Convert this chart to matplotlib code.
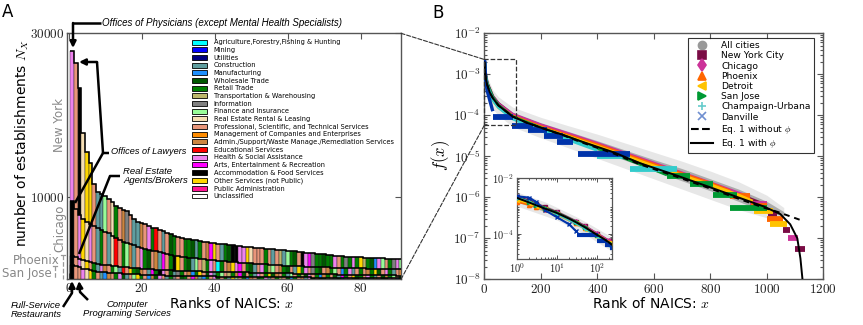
import numpy as np
import matplotlib
matplotlib.use('Agg')
import matplotlib.pyplot as plt
from matplotlib.patches import Patch, Rectangle, ConnectionPatch, FancyArrowPatch
from matplotlib.lines import Line2D
from matplotlib.ticker import FixedLocator, FuncFormatter, LogLocator, NullFormatter

plt.rcParams['font.family'] = ['DejaVu Sans']
plt.rcParams['mathtext.fontset'] = 'cm'

# ---------------- data: panel A ----------------
sector_names = [
    'Agriculture,Forestry,Fishing & Hunting', 'Mining', 'Utilities', 'Construction',
    'Manufacturing', 'Wholesale Trade', 'Retail Trade', 'Transportation & Warehousing',
    'Information', 'Finance and Insurance', 'Real Estate Rental & Leasing',
    'Professional, Scientific, and Technical Services',
    'Management of Companies and Enterprises',
    'Admin./Support/Waste Manage./Remediation Services', 'Educational Services',
    'Health & Social Assistance', 'Arts, Entertainment & Recreation',
    'Accommodation & Food Services', 'Other Services (not Public)',
    'Public Administration', 'Unclassified']
sector_colors = ['#00ffff', '#0000ff', '#000080', '#5f9ea0', '#1e90ff', '#005800',
                 '#008000', '#bdb76b', '#808080', '#98fb98', '#f5deb3', '#e9967a',
                 '#ff8c00', '#cd853f', '#ff0000', '#ee82ee', '#ff00ff', '#000000',
                 '#ffd700', '#ff1493', '#ffffff']

nyc_counts = [27800, 26400, 23300, 17800, 15500, 14200, 11600, 10600, 10400, 10200,
              9800, 9400, 9000, 8700, 8400, 8300, 7800, 7300, 7000, 6900,
              6700, 6500, 6300, 6200, 6000, 5900, 5700, 5500, 5300, 5100,
              5000, 4950, 4900, 4800, 4750, 4700, 4600, 4500, 4450, 4400,
              4350, 4300, 4250, 4200, 4150, 4100, 4050, 4000, 3950, 3900,
              3850, 3800, 3780, 3750, 3700, 3650, 3600, 3550, 3520, 3500,
              3450, 3400, 3350, 3300, 3250, 3200, 3150, 3120, 3100, 3050,
              3000, 2950, 2900, 2850, 2800, 2780, 2760, 2740, 2720, 2700,
              2650, 2620, 2600, 2580, 2560, 2540, 2520, 2500, 2480, 2460, 2440]
nyc_sectors = [15, 11, 17, 10, 18, 18, 11, 3, 3, 9,
               11, 10, 6, 11, 13, 8, 11, 3, 3, 13,
               11, 15, 6, 14, 11, 3, 11, 5, 6, 11,
               11, 6, 6, 5, 3, 6, 11, 13, 16, 18,
               11, 3, 6, 5, 17, 17, 15, 15, 18, 10,
               11, 11, 11, 6, 11, 3, 11, 7, 3, 9,
               6, 5, 11, 17, 15, 16, 8, 6, 6, 5,
               6, 6, 15, 11, 6, 8, 6, 15, 6, 18,
               7, 6, 5, 4, 15, 9, 11, 6, 8, 15, 9]

chicago_counts = [9600, 8600, 7900, 7300, 7000, 6800, 6500, 6200, 6000, 5800,
                  5600, 5300, 5000, 4800, 4600, 4450, 4300, 4150, 4000, 3850,
                  3700, 3600, 3500, 3400, 3300, 3200, 3100, 3000, 2900, 2800,
                  2750, 2700, 2650, 2600, 2550, 2500, 2450, 2400, 2350, 2300,
                  2260, 2220, 2180, 2140, 2100, 2060, 2020, 1990, 1960, 1930,
                  1900, 1870, 1840, 1810, 1780, 1750, 1720, 1700, 1680, 1660,
                  1640, 1620, 1600, 1580, 1560, 1540, 1520, 1500, 1480, 1460,
                  1440, 1420, 1400, 1390, 1380, 1370, 1360, 1350, 1340, 1330,
                  1320, 1310, 1300, 1290, 1280, 1270, 1260, 1250, 1240, 1230, 1220]
chicago_sectors = [17, 11, 15, 18, 10, 15, 11, 3, 6, 11,
                   3, 10, 14, 11, 6, 9, 13, 3, 11, 15,
                   6, 5, 11, 13, 3, 16, 11, 6, 17, 18,
                   11, 6, 5, 3, 9, 11, 7, 6, 15, 11,
                   0, 6, 11, 13, 18, 15, 16, 11, 6, 5,
                   3, 11, 15, 6, 7, 9, 11, 13, 6, 5,
                   11, 3, 18, 6, 15, 11, 8, 6, 5, 11,
                   13, 6, 9, 11, 4, 6, 15, 3, 11, 6,
                   11, 13, 6, 18, 5, 11, 15, 6, 3, 11, 13]

phoenix_counts = [2900, 2700, 2500, 2350, 2200, 2100, 2000, 1900, 1800, 1750,
                  1700, 1650, 1600, 1550, 1500, 1460, 1420, 1380, 1340, 1300,
                  1270, 1240, 1210, 1180, 1150, 1120, 1100, 1080, 1060, 1040,
                  1020, 1000, 990, 980, 970, 960, 950, 940, 930, 920,
                  910, 900, 890, 880, 870, 860, 850, 840, 830, 820,
                  810, 800, 790, 780, 770, 760, 750, 740, 730, 720,
                  710, 700, 690, 680, 670, 660, 650, 640, 630, 620,
                  610, 600, 590, 580, 570, 560, 550, 540, 530, 520,
                  510, 500, 495, 490, 485, 480, 475, 470, 465, 460, 455]
phoenix_sectors = [17, 11, 15, 10, 18, 11, 6, 3, 15, 13,
                   11, 6, 9, 3, 14, 11, 18, 6, 5, 13,
                   11, 3, 16, 6, 17, 15, 11, 5, 3, 8,
                   6, 11, 13, 4, 6, 18, 11, 5, 15, 3,
                   6, 9, 11, 7, 6, 13, 16, 5, 11, 6,
                   3, 15, 11, 6, 18, 5, 13, 11, 6, 3,
                   9, 11, 6, 7, 5, 15, 11, 6, 4, 13,
                   6, 11, 5, 3, 16, 6, 11, 18, 5, 6,
                   11, 15, 6, 3, 11, 5, 13, 6, 9, 11, 6]

sanjose_counts = [1800, 1600, 1450, 1300, 1200, 1100, 1000, 950, 900, 850,
                  800, 770, 740, 710, 680, 650, 630, 610, 590, 570,
                  550, 535, 520, 505, 490, 475, 460, 450, 440, 430,
                  420, 410, 400, 390, 380, 370, 360, 355, 350, 345,
                  340, 335, 330, 325, 320, 315, 310, 305, 300, 295,
                  290, 285, 280, 275, 270, 265, 260, 255, 250, 245,
                  240, 236, 232, 228, 224, 220, 216, 212, 208, 204,
                  200, 197, 194, 191, 188, 185, 182, 179, 176, 173,
                  170, 168, 166, 164, 162, 160, 158, 156, 154, 152, 150]
sanjose_sectors = [17, 11, 11, 15, 10, 18, 6, 11, 3, 4,
                   13, 11, 6, 15, 5, 3, 11, 9, 18, 6,
                   11, 4, 13, 5, 15, 11, 3, 6, 8, 11,
                   5, 6, 11, 16, 13, 3, 4, 6, 11, 15,
                   5, 11, 6, 3, 18, 9, 11, 6, 4, 13,
                   11, 5, 6, 15, 3, 11, 6, 7, 11, 5,
                   4, 6, 11, 13, 3, 15, 6, 11, 5, 6,
                   9, 11, 3, 6, 4, 15, 11, 6, 5, 13,
                   11, 6, 3, 18, 11, 5, 6, 15, 11, 4, 6]

# ---------------- data: panel B (log10 of f) ----------------
model_x = [1, 2, 3, 5, 10, 20, 30, 50, 100, 150, 212, 280, 340, 457, 552, 669, 789,
           906, 988, 1048, 1083, 1108, 1119, 1126]
model_phi_log = [-2.71, -2.87, -2.97, -3.09, -3.25, -3.45, -3.58, -3.76, -4.03, -4.18,
                 -4.33, -4.48, -4.63, -4.9, -5.17, -5.44, -5.73, -6.02, -6.22, -6.41,
                 -6.66, -7.0, -7.49, -7.98]
model_nophi_x = [1, 2, 3, 5, 10, 20, 30, 50, 100, 150, 212, 280, 340, 457, 552, 669,
                 789, 906, 988, 1040, 1130]
model_nophi_log = [-2.71, -2.87, -2.97, -3.09, -3.25, -3.45, -3.58, -3.76, -4.03, -4.18,
                   -4.33, -4.49, -4.65, -4.93, -5.2, -5.47, -5.76, -6.05, -6.25, -6.36,
                   -6.58]

band_x = [1, 5, 10, 30, 50, 100, 200, 300, 400, 500, 600, 700, 800, 900, 1000, 1060]
band_outer_hi = [-2.5, -2.85, -3.05, -3.38, -3.55, -3.8, -4.05, -4.26, -4.46, -4.68,
                 -4.9, -5.12, -5.36, -5.62, -5.95, -6.25]
band_outer_lo = [-3.0, -3.35, -3.5, -3.85, -4.0, -4.28, -4.55, -4.8, -5.05, -5.3,
                 -5.55, -5.8, -6.05, -6.3, -6.5, -6.5]
band_inner_hi = [-2.6, -2.97, -3.15, -3.48, -3.66, -3.92, -4.18, -4.4, -4.62, -4.85,
                 -5.08, -5.3, -5.55, -5.8, -6.1, -6.35]
band_inner_lo = [-2.85, -3.2, -3.35, -3.68, -3.85, -4.1, -4.4, -4.62, -4.86, -5.1,
                 -5.35, -5.6, -5.84, -6.1, -6.38, -6.45]

city_names = ['New York City', 'Chicago', 'Phoenix', 'Detroit', 'San Jose',
              'Champaign-Urbana', 'Danville']
city_colors = ['#7a0c45', '#cc3399', '#ff6600', '#ffc300', '#009933', '#33cccc', '#0033aa']
city_legend_colors = ['#7a0c45', '#cc3399', '#ff6600', '#ffc300', '#009933', '#66cccc', '#6f8fd0']
city_markers = ['s', 'd', '^', '<', '>', '+', 'x']

nyc_x = [1, 2, 3, 5, 10, 30, 50, 100, 200, 300, 400, 500, 600, 700, 800, 900, 1000]
nyc_log = [-2.68, -2.8, -2.92, -3.05, -3.22, -3.55, -3.72, -3.99, -4.25, -4.48, -4.71,
           -4.96, -5.2, -5.44, -5.68, -5.93, -6.2]
nyc_tail = [(1005, 1037, -6.41), (1058, 1083, -6.8), (1100, 1136, -7.27)]
chi_x = [1, 2, 3, 5, 10, 30, 50, 100, 200, 300, 400, 500, 600, 700, 800, 900, 940]
chi_log = [-2.75, -2.88, -2.98, -3.1, -3.26, -3.56, -3.73, -3.98, -4.24, -4.46, -4.69,
           -4.93, -5.17, -5.41, -5.65, -5.9, -6.0]
chi_tail = [(941, 1002, -6.17), (1076, 1112, -7.0)]
phx_x = [1, 2, 3, 5, 10, 30, 50, 100, 200, 300, 400, 500, 600, 700, 800, 870]
phx_log = [-2.85, -2.95, -3.02, -3.12, -3.3, -3.6, -3.77, -4.02, -4.28, -4.5, -4.72,
           -4.96, -5.2, -5.43, -5.66, -5.85]
phx_tail = [(870, 941, -5.97), (945, 1000, -6.22), (1002, 1058, -6.52)]
det_x = [1, 2, 3, 5, 10, 30, 50, 100, 200, 300, 400, 500, 600, 700, 800, 900, 950]
det_log = [-2.78, -2.9, -3.0, -3.12, -3.3, -3.62, -3.8, -4.05, -4.31, -4.53, -4.76,
           -5.0, -5.24, -5.47, -5.7, -5.95, -6.1]
det_tail = [(953, 1023, -6.34), (1012, 1072, -6.66)]
sj_x = [1, 2, 3, 5, 10, 30, 50, 100, 200, 300, 400, 500, 600, 647]
sj_log = [-2.7, -2.84, -2.95, -3.08, -3.24, -3.57, -3.76, -4.04, -4.31, -4.55, -4.8,
          -5.05, -5.32, -5.45]
sj_tail = [(647, 729, -5.49), (729, 810, -5.68), (810, 895, -5.95), (870, 1002, -6.27)]
cu_x = [1, 2, 3, 5, 10, 30, 50, 100, 200, 300, 400]
cu_log = [-2.7, -2.85, -2.95, -3.1, -3.28, -3.62, -3.8, -4.08, -4.37, -4.6, -4.85]
cu_tail = [(400, 517, -5.0), (517, 683, -5.3)]
dan_x = [1, 2, 3, 5, 10, 20, 30]
dan_log = [-2.65, -2.7, -2.85, -3.15, -3.4, -3.65, -3.9]
dan_tail = [(32, 103, -4.03), (99, 174, -4.25), (156, 222, -4.37), (210, 277, -4.5),
            (258, 315, -4.65), (330, 517, -4.95)]

city_series = [(nyc_x, nyc_log, nyc_tail), (chi_x, chi_log, chi_tail),
               (phx_x, phx_log, phx_tail), (det_x, det_log, det_tail),
               (sj_x, sj_log, sj_tail), (cu_x, cu_log, cu_tail),
               (dan_x, dan_log, dan_tail)]

# ---------------- figure ----------------
W, H = 863, 325
fig = plt.figure(figsize=(W / 100, H / 100), dpi=100)


def P(px, py):
    return (px / W, 1 - py / H)


SPINE = '#555555'
TXT = '#222222'
ANN_FONT = ['Liberation Sans', 'DejaVu Sans']

# ---------- Panel A ----------
axA = fig.add_axes([66.7 / W, 1 - 279.3 / H, (401 - 66.7) / W, 246 / H])
cities_A = [(nyc_counts, nyc_sectors), (chicago_counts, chicago_sectors),
            (phoenix_counts, phoenix_sectors), (sanjose_counts, sanjose_sectors)]
for z, (vals, secs) in enumerate(cities_A):
    n = len(vals)
    ranks = np.arange(1, n + 1)
    axA.bar(ranks, vals, width=1.0, color=[sector_colors[s] for s in secs],
            edgecolor='#222222', linewidth=0.3, zorder=2 + 2 * z)
    axA.stairs(vals, np.arange(0.5, n + 1.0), baseline=None, color='k', lw=1.1,
               zorder=3 + 2 * z)
axA.set_xlim(-0.5, 91)
axA.set_ylim(0, 30000)
axA.xaxis.set_major_locator(FixedLocator([0, 20, 40, 60, 80]))
axA.yaxis.set_major_locator(FixedLocator([10000, 30000]))
axA.xaxis.set_major_formatter(FuncFormatter(lambda v, p: r'$%d$' % v))
axA.yaxis.set_major_formatter(FuncFormatter(lambda v, p: r'$%d$' % v))
axA.tick_params(direction='in', top=True, right=True, labelsize=9.5, colors=SPINE,
                labelcolor=TXT, length=4, width=0.8, pad=2)
for s in axA.spines.values():
    s.set_color(SPINE)
    s.set_linewidth(1.0)

handles = [Patch(facecolor=c, edgecolor='k', linewidth=0.6) for c in sector_colors]
legA = axA.legend(handles, sector_names, loc='upper left', bbox_to_anchor=(0.374, 0.975),
                  prop={'family': 'DejaVu Sans', 'size': 4.8}, frameon=False,
                  handlelength=2.3, handleheight=0.75, labelspacing=0.25,
                  handletextpad=1.0, borderaxespad=0, borderpad=0)
legA.set_zorder(20)

# city labels in A
fig.text(*P(59, 125), 'New York', rotation=90, color='#888888', fontsize=8.5,
         ha='center', va='center')
fig.text(*P(60, 228), 'Chicago', rotation=90, color='#888888', fontsize=8.5,
         ha='center', va='center')
fig.text(*P(60, 260), 'Phoenix', color='#888888', fontsize=8.5, ha='right', va='center')
fig.text(*P(52, 273), 'San Jose', color='#888888', fontsize=8.5, ha='right', va='center')
for (x0, y0, y1) in [(63, 255, 279), (55, 266, 279)]:
    fig.add_artist(Line2D([x0 / W, x0 / W], [1 - y0 / H, 1 - y1 / H], ls='--',
                          color='#999999', lw=0.9, transform=fig.transFigure))
    fig.add_artist(Line2D([(x0 - 2) / W, (x0 + 2) / W], [1 - y0 / H, 1 - y0 / H],
                          color='#999999', lw=0.9, transform=fig.transFigure))

fig.text(*P(22, 143.5), r'number of establishments $N_X$', rotation=90, fontsize=10,
         ha='center', va='center')
fig.text(*P(232, 303), r'Ranks of NAICS: $x$', fontsize=10, ha='center', va='center')
fig.text(*P(7.5, 12), 'A', fontsize=12, ha='center', va='center')


def line(pts, lw=1.8):
    xs = [p[0] / W for p in pts]
    ys = [1 - p[1] / H for p in pts]
    fig.add_artist(Line2D(xs, ys, color='k', lw=lw, transform=fig.transFigure,
                          solid_capstyle='butt', zorder=30))


def arrow(p0, p1):
    fig.add_artist(FancyArrowPatch(P(*p0), P(*p1), transform=fig.transFigure,
                                   arrowstyle='-|>', mutation_scale=9, lw=1.8,
                                   color='k', shrinkA=0, shrinkB=0, zorder=30))


# annotations
line([(101, 23), (73, 23)])
arrow((73, 23), (73, 48))
fig.text(*P(102, 23), 'Offices of Physicians (except Mental Health Specialists)',
         fontsize=7, style='italic', ha='left', va='center', family=ANN_FONT)
line([(109, 153), (103, 153), (97, 62)])
arrow((97, 62), (79, 62))
line([(103, 153), (75, 203)])
fig.text(*P(111, 152), 'Offices of Lawyers', fontsize=6.6, style='italic',
         ha='left', va='center', family=ANN_FONT)
line([(120, 176), (110, 176), (79, 254)])
fig.text(*P(123, 176), 'Real Estate\nAgents/Brokers', fontsize=6.8, style='italic',
         ha='left', va='center', linespacing=1.0, family=ANN_FONT)
line([(63, 307), (72, 293)])
arrow((72, 293), (72, 281))
fig.text(*P(36, 310), 'Full-Service\nRestaurants', fontsize=6.8, style='italic',
         ha='center', va='center', linespacing=1.0, family=ANN_FONT)
line([(88, 300), (80, 292)])
arrow((80, 292), (79, 281))
fig.text(*P(127, 309), 'Computer\nPrograming Services', fontsize=6.8, style='italic',
         ha='center', va='center', linespacing=1.0, family=ANN_FONT)

# ---------- Panel B ----------
axB = fig.add_axes([484.3 / W, 1 - 279.3 / H, 339 / W, 246 / H])
axB.set_yscale('log')


def draw_curves(ax, inset=False):
    bx = np.array(band_x)
    ax.fill_between(bx, 10 ** np.array(band_outer_lo), 10 ** np.array(band_outer_hi),
                    color='#888888', alpha=0.2, lw=0, zorder=1)
    ax.fill_between(bx, 10 ** np.array(band_inner_lo), 10 ** np.array(band_inner_hi),
                    color='#666666', alpha=0.45, lw=0, zorder=1)
    for (xs, lg, tail), col, mk in zip(city_series, city_colors, city_markers):
        if inset:
            ax.plot(xs, 10 ** np.array(lg), color=col, lw=1.5, marker=mk, ms=3,
                    mew=1, zorder=3)
        else:
            ax.plot(xs, 10 ** np.array(lg), color=col, lw=2.4, zorder=3,
                    solid_capstyle='butt')
        for (a, b, v) in tail:
            ax.plot([a, b], [10 ** v, 10 ** v], color=col, lw=4.2 if not inset else 3,
                    zorder=3, solid_capstyle='butt')
    if not inset:
        ax.plot(model_nophi_x, 10 ** np.array(model_nophi_log), color='k', lw=1.4,
                ls=(0, (3, 2.5)), zorder=5)
    ax.plot(model_x, 10 ** np.array(model_phi_log), color='k', lw=1.4, zorder=6)


draw_curves(axB)
axB.set_xlim(0, 1200)
axB.set_ylim(1e-8, 1e-2)
axB.xaxis.set_major_locator(FixedLocator([0, 200, 400, 600, 800, 1000, 1200]))
axB.xaxis.set_major_formatter(FuncFormatter(lambda v, p: r'$%d$' % v))
axB.yaxis.set_major_locator(FixedLocator([1e-8, 1e-7, 1e-6, 1e-5, 1e-4, 1e-3, 1e-2]))
axB.yaxis.set_major_formatter(FuncFormatter(lambda v, p: r'$10^{%d}$' % round(np.log10(v))))
axB.yaxis.set_minor_locator(LogLocator(base=10, subs=np.arange(2, 10), numticks=20))
axB.yaxis.set_minor_formatter(NullFormatter())
axB.tick_params(which='both', direction='in', top=True, right=True, colors=SPINE,
                labelcolor=TXT, width=0.8)
axB.tick_params(which='major', labelsize=9.5, length=4, pad=2.5)
axB.tick_params(which='minor', length=2)
for s in axB.spines.values():
    s.set_color(SPINE)
    s.set_linewidth(1.0)

box_lo, box_hi, box_x = 5.7e-5, 2.3e-3, 112
axB.add_patch(Rectangle((0, box_lo), box_x, box_hi - box_lo, fill=False, ls='--',
                        lw=0.9, ec='#333333', zorder=8, clip_on=False))
for xyA, xyB in [((1, 1), (0, box_hi)), ((1, 0), (0, box_lo))]:
    con = ConnectionPatch(xyA=xyA, coordsA=axA.transAxes, xyB=xyB, coordsB=axB.transData,
                          ls='--', lw=0.8, color='#333333')
    fig.add_artist(con)

leg_handles = [Line2D([], [], ls='none', marker='o', ms=6, color='#999999')]
for col, mk in zip(city_legend_colors, city_markers):
    leg_handles.append(Line2D([], [], ls='none', marker=mk, ms=6, color=col, mew=1.2))
leg_handles.append(Line2D([], [], color='k', ls='--', lw=1.5))
leg_handles.append(Line2D([], [], color='k', ls='-', lw=1.5))
leg_labels = ['All cities'] + city_names + [r'Eq. 1 without $\phi$', r'Eq. 1 with $\phi$']
legB = axB.legend(leg_handles, leg_labels, loc='upper right',
                  bbox_to_anchor=(0.973, 0.981), prop={'family': 'DejaVu Sans', 'size': 6.6},
                  frameon=True, fancybox=False, edgecolor='k', handlelength=2.4,
                  labelspacing=0.13, borderpad=0.35, borderaxespad=0, handletextpad=0.9)
legB.get_frame().set_linewidth(0.8)
legB.set_zorder(20)

fig.text(*P(441, 155), r'$f(x)$', rotation=90, fontsize=12, ha='center', va='center')
fig.text(*P(651, 303), r'Rank of NAICS: $x$', fontsize=10, ha='center', va='center')
fig.text(*P(438, 12.5), 'B', fontsize=12, ha='center', va='center')

# ---------- inset ----------
axI = fig.add_axes([517 / W, 1 - 259 / H, 95 / W, 81 / H])
axI.set_xscale('log')
axI.set_yscale('log')
draw_curves(axI, inset=True)
axI.set_xlim(1, 235)
axI.set_ylim(1.3e-5, 1e-2)
axI.xaxis.set_major_locator(FixedLocator([1, 10, 100]))
axI.xaxis.set_major_formatter(FuncFormatter(lambda v, p: r'$10^{%d}$' % round(np.log10(v))))
axI.yaxis.set_major_locator(FixedLocator([1e-4, 1e-2]))
axI.yaxis.set_major_formatter(FuncFormatter(lambda v, p: r'$10^{%d}$' % round(np.log10(v))))
axI.xaxis.set_minor_locator(LogLocator(base=10, subs=np.arange(2, 10), numticks=20))
axI.yaxis.set_minor_locator(LogLocator(base=10, subs=np.arange(2, 10), numticks=20))
axI.xaxis.set_minor_formatter(NullFormatter())
axI.yaxis.set_minor_formatter(NullFormatter())
axI.tick_params(which='both', direction='in', top=True, right=True, colors=SPINE,
                labelcolor=TXT, width=0.7)
axI.tick_params(which='major', labelsize=7.5, length=3, pad=2)
axI.tick_params(which='minor', length=1.5)
for s in axI.spines.values():
    s.set_color(SPINE)
    s.set_linewidth(0.9)

fig.savefig('out.png', dpi=100)
